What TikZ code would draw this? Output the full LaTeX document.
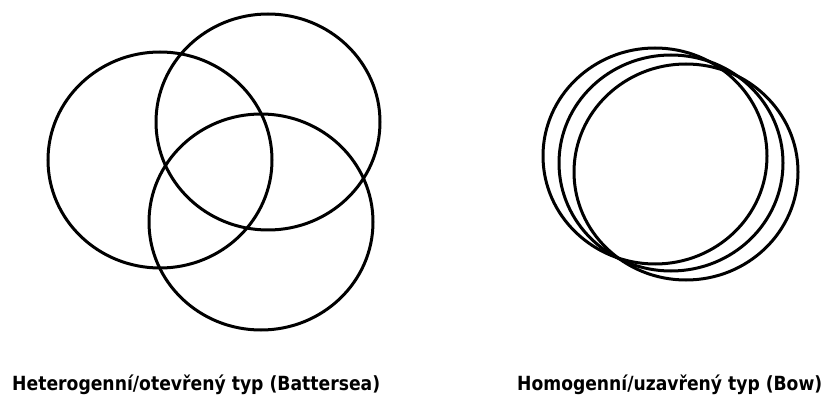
\documentclass[tikz,border=0pt]{standalone}
\usepackage{fontspec}
\setmainfont{DejaVu Sans}
\usepackage{graphicx}
\usetikzlibrary{positioning}

\begin{document}
\begin{tikzpicture}[x=1pt, y=-1pt]
	\tikzstyle{ring} = [draw, line width=3pt]
	\tikzstyle{caption} = [anchor=base west, inner sep=0pt, font=\fontsize{19.5}{20}\selectfont\bfseries]
	
	\useasboundingbox (0,0) rectangle (825,398);
	
	% heterogenous / open type
	\draw [ring] (160,160) ellipse [x radius=112, y radius=108];
	\draw [ring] (268,122) ellipse [x radius=112, y radius=108];
	\draw [ring] (261,222) ellipse [x radius=112, y radius=108];
	
	% homogenous / closed type
	\draw [ring] (655,156) ellipse [x radius=112, y radius=108];
	\draw [ring] (671,163) ellipse [x radius=112, y radius=108];
	\draw [ring] (686,172) ellipse [x radius=112, y radius=108];
	
	\node [caption] (open) at (12,390) {\resizebox{368pt}{\height}{Heterogenní/otevřený typ (Battersea)}};
	\node [caption] (closed) at (517,390) {\resizebox{305pt}{\height}{Homogenní/uzavřený typ (Bow)}};
	
\end{tikzpicture}
\end{document}
